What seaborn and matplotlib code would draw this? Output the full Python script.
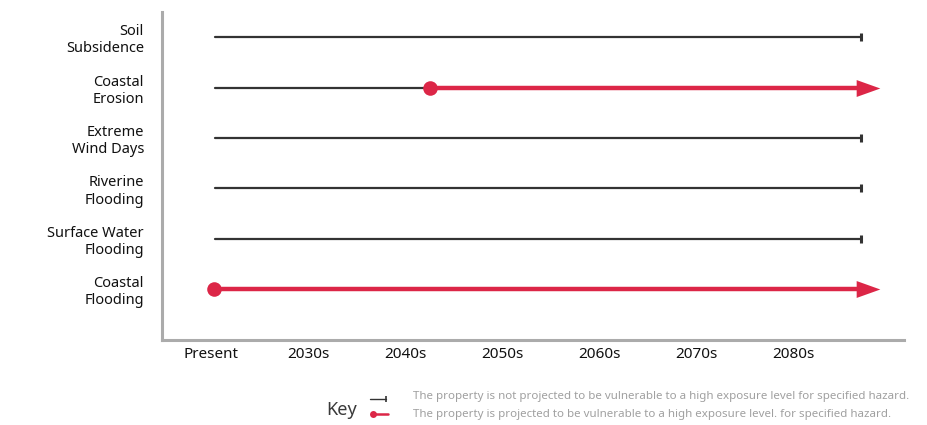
import matplotlib
matplotlib.use("Agg")
import matplotlib.pyplot as plt
from matplotlib.lines import Line2D
import seaborn as sns
import pandas as pd

# ---- data ----
hazards = ["Soil\nSubsidence", "Coastal\nErosion", "Extreme\nWind Days",
           "Riverine\nFlooding", "Surface Water\nFlooding", "Coastal\nFlooding"]
periods = ["Present", "2030s", "2040s", "2050s", "2060s", "2070s", "2080s"]
# position (in period index units) from which the hazard becomes high exposure; None = never
vulnerable_from = [None, 2.26, None, None, None, 0.03]
timeline_start = 0.04
timeline_end = 6.70
key_texts = ["The property is not projected to be vulnerable to a high exposure level for specified hazard.",
             "The property is projected to be vulnerable to a high exposure level. for specified hazard."]

RED = "#DC2647"
BLACK = "#333333"
GREY = "#ABABAB"

sns.set_theme(style="white")
plt.rcParams["font.family"] = ["Noto Sans", "DejaVu Sans"]

# build segments
rows = []
for i, (h, v) in enumerate(zip(hazards, vulnerable_from)):
    if v is None:
        rows += [dict(seg=f"{i}a", status="no", x=timeline_start, y=i),
                 dict(seg=f"{i}a", status="no", x=timeline_end, y=i)]
    else:
        if v > timeline_start:
            rows += [dict(seg=f"{i}a", status="no", x=timeline_start, y=i),
                     dict(seg=f"{i}a", status="no", x=v, y=i)]
        rows += [dict(seg=f"{i}b", status="yes", x=v, y=i),
                 dict(seg=f"{i}b", status="yes", x=timeline_end, y=i)]
df = pd.DataFrame(rows)

fig = plt.figure(figsize=(9.28, 4.25), dpi=100)
ax = fig.add_axes([0.1746, 0.2, 0.7996, 0.7718])

sns.lineplot(data=df, x="x", y="y", units="seg", hue="status", size="status",
             palette={"no": BLACK, "yes": RED}, sizes={"no": 1.6, "yes": 3.2},
             estimator=None, sort=False, legend=False, ax=ax, zorder=2)

# end caps of black lines
caps = pd.DataFrame({"x": [timeline_end] * sum(v is None for v in vulnerable_from),
                     "y": [i for i, v in enumerate(vulnerable_from) if v is None]})
ax.plot(caps["x"], caps["y"], ls="none", marker="|", ms=6, mew=2.2, color=BLACK, zorder=3)

# arrow heads for vulnerable lines
red_rows = [i for i, v in enumerate(vulnerable_from) if v is not None]
head = [(-1.4, -1.0), (1.4, 0.0), (-1.4, 1.0), (-1.4, -1.0)]
sns.scatterplot(x=[timeline_end + 0.07] * len(red_rows), y=red_rows, marker=head,
                s=290, color=RED, linewidth=0, ax=ax, zorder=4)
# onset dots
sns.scatterplot(x=[vulnerable_from[i] for i in red_rows], y=red_rows, marker="o",
                s=110, color=RED, linewidth=0, ax=ax, zorder=5)

ax.set_xlim(-0.505, 7.145)
ax.set_ylim(6.01, -0.5)
ax.set_xticks(range(len(periods)))
ax.set_xticklabels(periods, fontsize=11, color="#111111")
ax.set_yticks(range(len(hazards)))
ax.set_yticklabels(hazards, fontsize=10.5, color="#111111", linespacing=1.2)
ax.tick_params(axis="both", length=0)
ax.tick_params(axis="x", pad=5)
ax.tick_params(axis="y", pad=13)
ax.set_xlabel("")
ax.set_ylabel("")
for s in ["top", "right"]:
    ax.spines[s].set_visible(False)
for s in ["left", "bottom"]:
    ax.spines[s].set_color(GREY)
    ax.spines[s].set_linewidth(2.2)

# key
fig.text(342 / 928, 1 - 410 / 425, "Key", fontsize=13, color="#3a3a3a",
         ha="center", va="center")
fig.add_artist(Line2D([370 / 928, 386 / 928], [1 - 399 / 425] * 2, color=BLACK, lw=1.0))
fig.add_artist(Line2D([386 / 928], [1 - 399 / 425], marker="|", ms=4, mew=1.2, color=BLACK))
fig.add_artist(Line2D([372 / 928, 388 / 928], [1 - 414 / 425] * 2, color=RED, lw=1.8))
fig.add_artist(Line2D([373 / 928], [1 - 414 / 425], marker="o", ms=5, color=RED, mew=0))
fig.text(413 / 928, 1 - 397 / 425, key_texts[0], fontsize=8.3, color="#A0A0A0",
         ha="left", va="center")
fig.text(413 / 928, 1 - 414 / 425, key_texts[1], fontsize=8.3, color="#A0A0A0",
         ha="left", va="center")

fig.savefig("out.png", dpi=100)
